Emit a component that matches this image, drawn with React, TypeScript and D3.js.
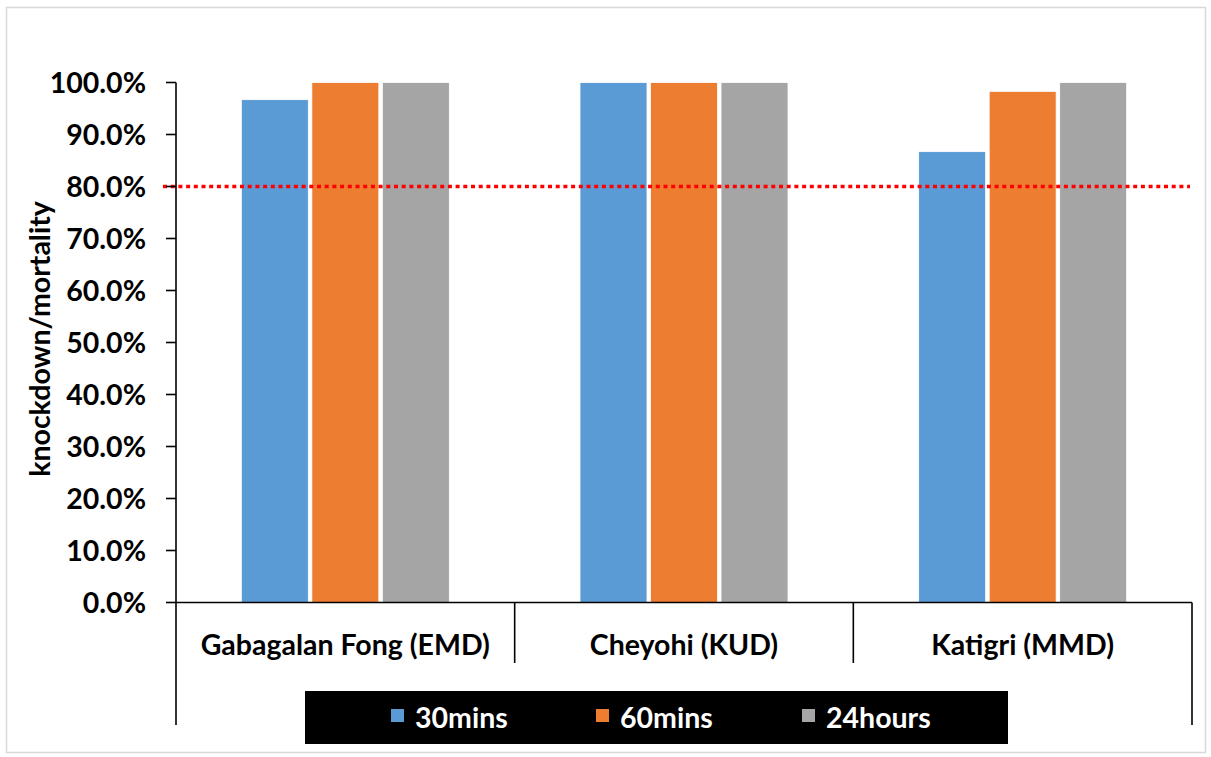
import React from "react";
import * as d3 from "d3";

// Knockdown / mortality by site and exposure time
const sites = ["Gabagalan Fong (EMD)", "Cheyohi (KUD)", "Katigri (MMD)"];
const seriesNames = ["30mins", "60mins", "24hours"];
const mins30 = [96.7, 100, 86.7];
const mins60 = [100, 100, 98.3];
const hours24 = [100, 100, 100];
const yTicks = [0, 10, 20, 30, 40, 50, 60, 70, 80, 90, 100];
const threshold = 80;
const colors = ["#5b9bd5", "#ed7d31", "#a5a5a5"];

const W = 1211;
const H = 757;
const FONT = "Lato, 'Open Sans', sans-serif";
const FS = 28.5;

export default function App() {
  const plotLeft = 176;
  const plotRight = 1192;
  const plotTop = 82.5;
  const plotBottom = 602.5;

  const y = d3.scaleLinear().domain([0, 100]).range([plotBottom, plotTop]);
  const x0 = d3.scaleBand<string>().domain(sites).range([plotLeft, plotRight]).padding(0);
  const groupW = 208;
  const x1 = d3.scaleBand<string>().domain(seriesNames).range([0, groupW]).paddingInner(0.05);

  const values = [mins30, mins60, hours24];
  const fmt = d3.format(".1f");

  const legendItems = [
    { name: seriesNames[0], sq: 391, tx: 415 },
    { name: seriesNames[1], sq: 596, tx: 620 },
    { name: seriesNames[2], sq: 802, tx: 826 },
  ];

  return (
    <svg
      width={W}
      height={H}
      style={{ position: "absolute", left: 0, top: 0, background: "#fff" }}
      fontFamily={FONT}
    >
      <rect x={6.5} y={7.5} width={1199} height={745} fill="#fff" stroke="#d9d9d9" strokeWidth={1.5} />

      {/* bars */}
      {sites.map((s, i) => {
        const gx = x0(s)! + x0.bandwidth() / 2 - groupW / 2;
        return (
          <g key={s}>
            {seriesNames.map((n, j) => {
              const v = values[j][i];
              return (
                <rect
                  key={n}
                  x={gx + x1(n)!}
                  y={y(v)}
                  width={x1.bandwidth()}
                  height={y(0) - y(v)}
                  fill={colors[j]}
                  stroke="#fff"
                  strokeWidth={0.8}
                />
              );
            })}
          </g>
        );
      })}

      {/* threshold */}
      <line
        x1={163}
        x2={1190}
        y1={y(threshold)}
        y2={y(threshold)}
        stroke="#ff0000"
        strokeWidth={3.6}
        strokeDasharray="4 3.7"
      />

      {/* y axis */}
      <line x1={plotLeft} x2={plotLeft} y1={plotTop} y2={725} stroke="#000" strokeWidth={1.6} />
      {yTicks.map((t) => (
        <g key={t}>
          <line x1={166} x2={plotLeft} y1={y(t)} y2={y(t)} stroke="#000" strokeWidth={1.6} />
          <text
            x={146}
            y={y(t)}
            dy="0.36em"
            textAnchor="end"
            fontSize={FS}
            fontWeight={700}
            fill="#000"
          >
            {fmt(t)}%
          </text>
        </g>
      ))}

      {/* x axis with category dividers */}
      <line x1={plotLeft} x2={plotRight} y1={plotBottom} y2={plotBottom} stroke="#000" strokeWidth={1.6} />
      {sites.slice(1).map((s) => (
        <line key={s} x1={x0(s)!} x2={x0(s)!} y1={plotBottom} y2={663} stroke="#000" strokeWidth={1.6} />
      ))}
      <line x1={plotRight} x2={plotRight} y1={plotBottom} y2={725} stroke="#000" strokeWidth={1.6} />
      {sites.map((s) => (
        <text
          key={s}
          x={x0(s)! + x0.bandwidth() / 2}
          y={645}
          dy="0.36em"
          textAnchor="middle"
          fontSize={FS}
          fontWeight={700}
          fill="#000"
        >
          {s}
        </text>
      ))}

      {/* y title */}
      <text
        transform={`translate(40,339) rotate(-90)`}
        dy="0.36em"
        textAnchor="middle"
        fontSize={FS}
        fontWeight={700}
        fill="#000"
      >
        knockdown/mortality
      </text>

      {/* legend */}
      <rect x={305} y={691} width={703} height={53} fill="#000" />
      {legendItems.map((it, j) => (
        <g key={it.name}>
          <rect x={it.sq} y={709} width={13} height={13} fill={colors[j]} />
          <text x={it.tx} y={718} dy="0.36em" fontSize={FS} fontWeight={700} fill="#fff">
            {it.name}
          </text>
        </g>
      ))}
    </svg>
  );
}
